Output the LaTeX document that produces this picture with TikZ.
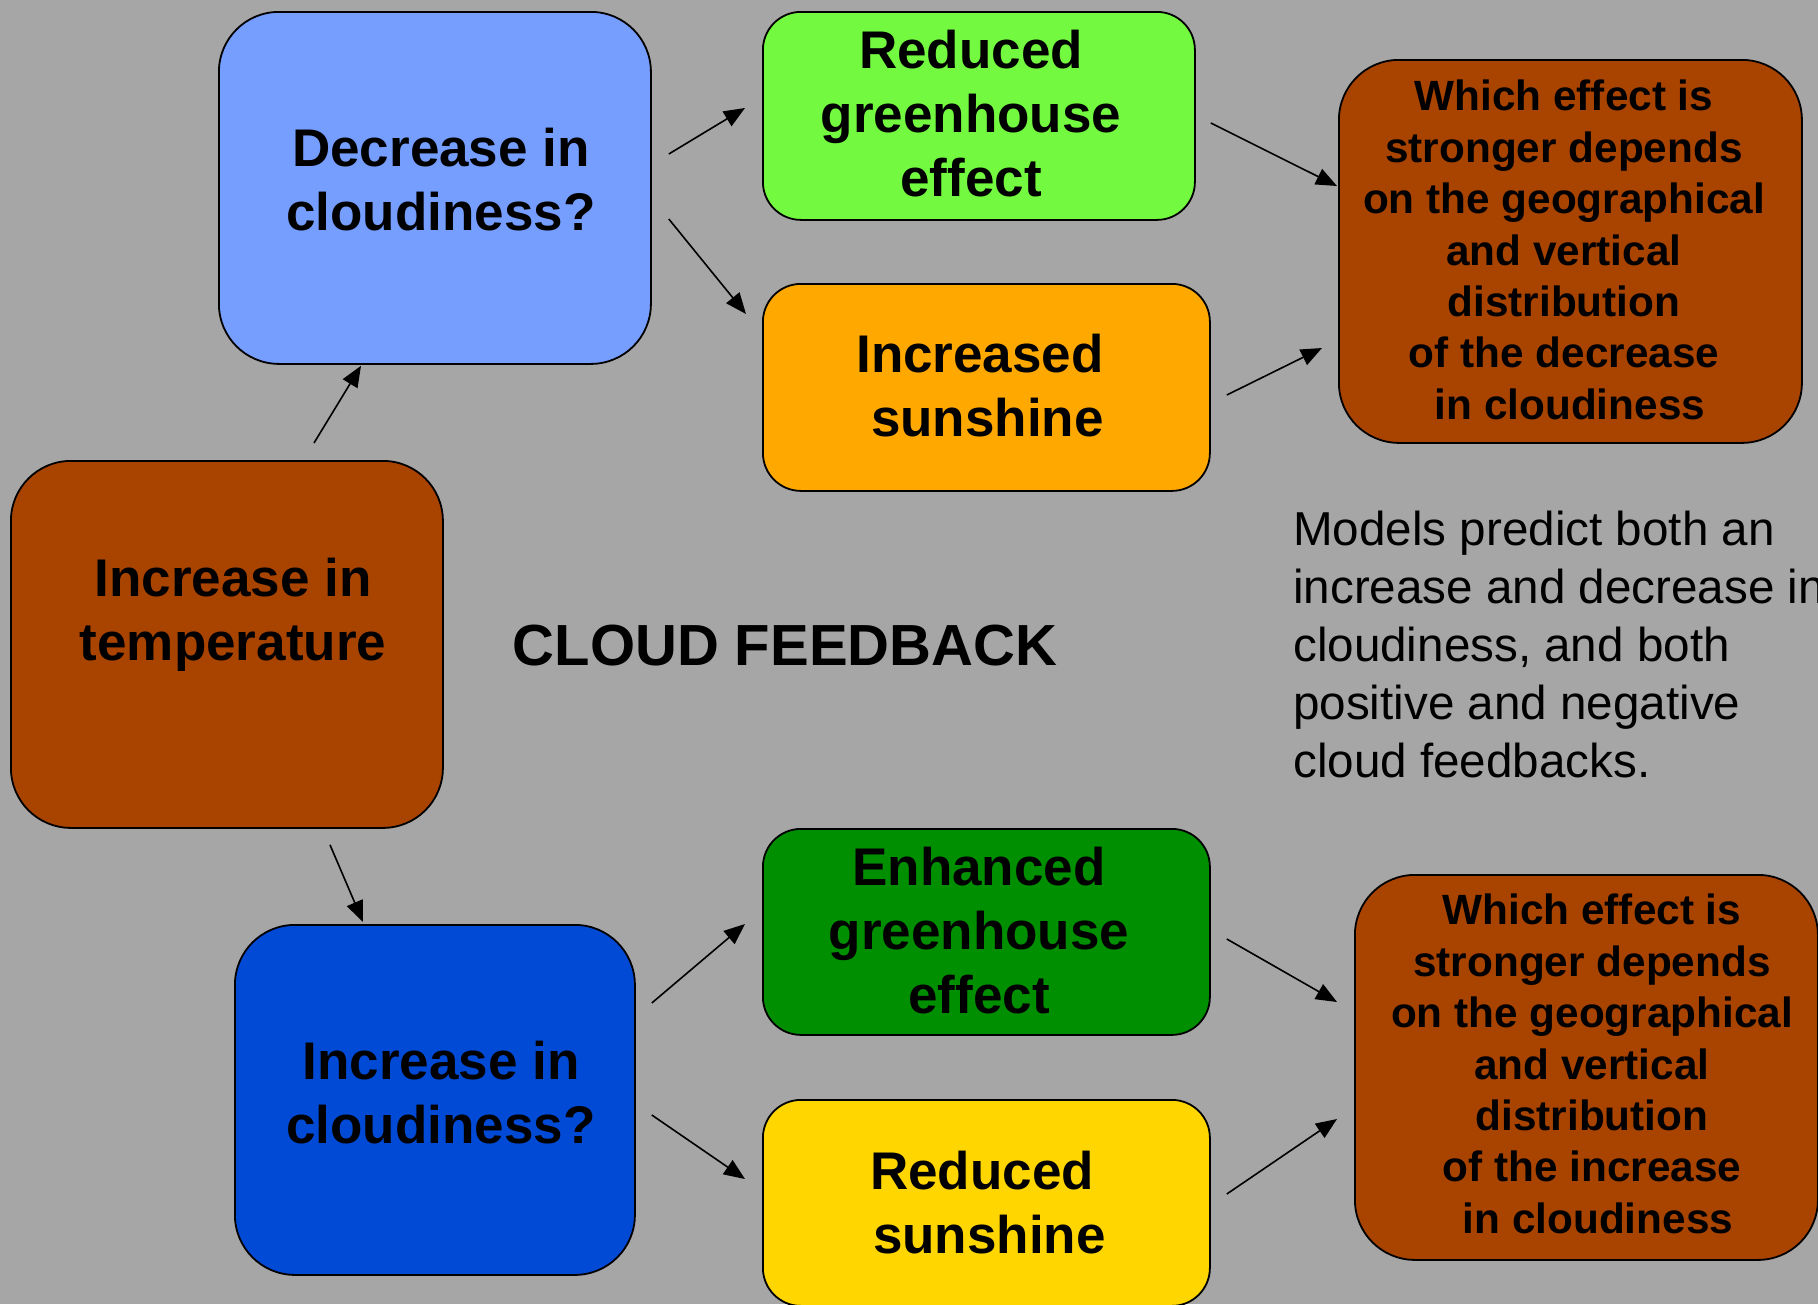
\documentclass[tikz,border=0pt]{standalone}
\usepackage{fontspec}
\setmainfont{Liberation Sans}
\usetikzlibrary{arrows.meta,calc}
\definecolor{bg}{RGB}{166,166,166}
\definecolor{lblue}{RGB}{118,158,255}
\definecolor{dblue}{RGB}{0,74,214}
\definecolor{brownc}{RGB}{169,67,0}
\definecolor{lgreen}{RGB}{115,250,64}
\definecolor{dgreenc}{RGB}{0,143,0}
\definecolor{orangec}{RGB}{255,168,0}
\definecolor{yellowc}{RGB}{255,214,0}
\tikzset{
  box/.style={draw=black,line width=1.8pt,rectangle,inner sep=0pt,anchor=north west},
  bigbox/.style={box,rounded corners=60pt},
  smallbox/.style={box,rounded corners=38pt},
  bigtxt/.style={align=center,inner sep=0pt,font=\fontsize{53}{64}\selectfont\bfseries},
  smalltxt/.style={align=center,inner sep=0pt,font=\fontsize{42.3}{51.4}\selectfont\bfseries},
  arr/.style={line width=1.6pt,-{Triangle[length=21pt,width=17pt]}}
}
\begin{document}
\begin{tikzpicture}[x=1pt,y=-1pt]
\useasboundingbox (0,0) rectangle (1818,1304);
\clip (0,0) rectangle (1818,1304);
\fill[bg] (0,0) rectangle (1818,1304);
% boxes
\node[bigbox,fill=lblue,minimum width=432pt,minimum height=352pt] (blue) at (218,11) {};
\node[bigbox,fill=brownc,minimum width=432pt,minimum height=367pt] (temp) at (10,460) {};
\node[smallbox,fill=lgreen,minimum width=432pt,minimum height=208pt] (green) at (762,11) {};
\node[smallbox,fill=orangec,minimum width=447pt,minimum height=207pt] (orange) at (762,283) {};
\node[bigbox,fill=brownc,minimum width=463pt,minimum height=383pt] (brownA) at (1338,59) {};
\node[bigbox,fill=dblue,minimum width=400pt,minimum height=350pt] (dblue) at (234,924) {};
\node[smallbox,fill=dgreenc,minimum width=447pt,minimum height=206pt] (dgreen) at (762,828) {};
\node[smallbox,fill=yellowc,minimum width=447pt,minimum height=206pt] (yellow) at (762,1099) {};
\node[bigbox,fill=brownc,minimum width=463pt,minimum height=385pt] (brownB) at (1354,874) {};
% texts
\node[bigtxt] (tblue) at (441,180) {Decrease in\\cloudiness?};
\node[bigtxt] (ttemp) at (233,615) {Increase in\\temperature};
\node[bigtxt] (tgreen) at (971,114) {Reduced\\greenhouse\\effect};
\node[bigtxt] (torange) at (980,386) {Increased\\\hspace*{0.28em}sunshine};
\node[smalltxt] (tbrownA) at (1564,250) {Which effect is\\stronger depends\\on the geographical\\and vertical\\distribution\\of the decrease\\\hspace*{0.28em}in cloudiness};
\node[bigtxt] (tdblue) at (441,1093) {Increase in\\cloudiness?};
\node[bigtxt] (tdgreen) at (979,931) {Enhanced\\greenhouse\\effect};
\node[bigtxt] (tyellow) at (982,1203) {Reduced\\\hspace*{0.28em}sunshine};
\node[smalltxt] (tbrownB) at (1592,1064) {Which effect is\\stronger depends\\on the geographical\\and vertical\\distribution\\of the increase\\\hspace*{0.28em}in cloudiness};
\node[inner sep=0pt,font=\fontsize{58}{70}\selectfont\bfseries] (title) at (785,646) {CLOUD FEEDBACK};
\node[inner sep=0pt,anchor=west,align=left,font=\fontsize{47.6}{58}\selectfont] (models) at (1293,644) {Models predict both an\\increase and decrease in\\cloudiness, and both\\positive and negative\\cloud feedbacks.};
% arrows
\draw[arr] ($(temp.north west)+(304,-17)$) -- ($(blue.south west)+(143,1)$);
\draw[arr] ($(temp.south west)+(320,16)$) -- ($(dblue.north west)+(129,-2)$);
\draw[arr] ($(blue.north east)+(17,143)$) -- ($(green.north west)+(-17,97)$);
\draw[arr] ($(blue.north east)+(17,208)$) -- ($(orange.north west)+(-16,31)$);
\draw[arr] ($(green.north east)+(15,112)$) -- ($(brownA.north west)+(-1,127)$);
\draw[arr] ($(orange.north east)+(16,112)$) -- ($(brownA.north west)+(-16,289)$);
\draw[arr] ($(dblue.north east)+(16,79)$) -- ($(dgreen.north west)+(-17,96)$);
\draw[arr] ($(dblue.north east)+(16,191)$) -- ($(yellow.north west)+(-17,80)$);
\draw[arr] ($(dgreen.north east)+(16,111)$) -- ($(brownB.north west)+(-17,128)$);
\draw[arr] ($(yellow.north east)+(16,95)$) -- ($(brownB.north west)+(-17,245)$);
\end{tikzpicture}
\end{document}
